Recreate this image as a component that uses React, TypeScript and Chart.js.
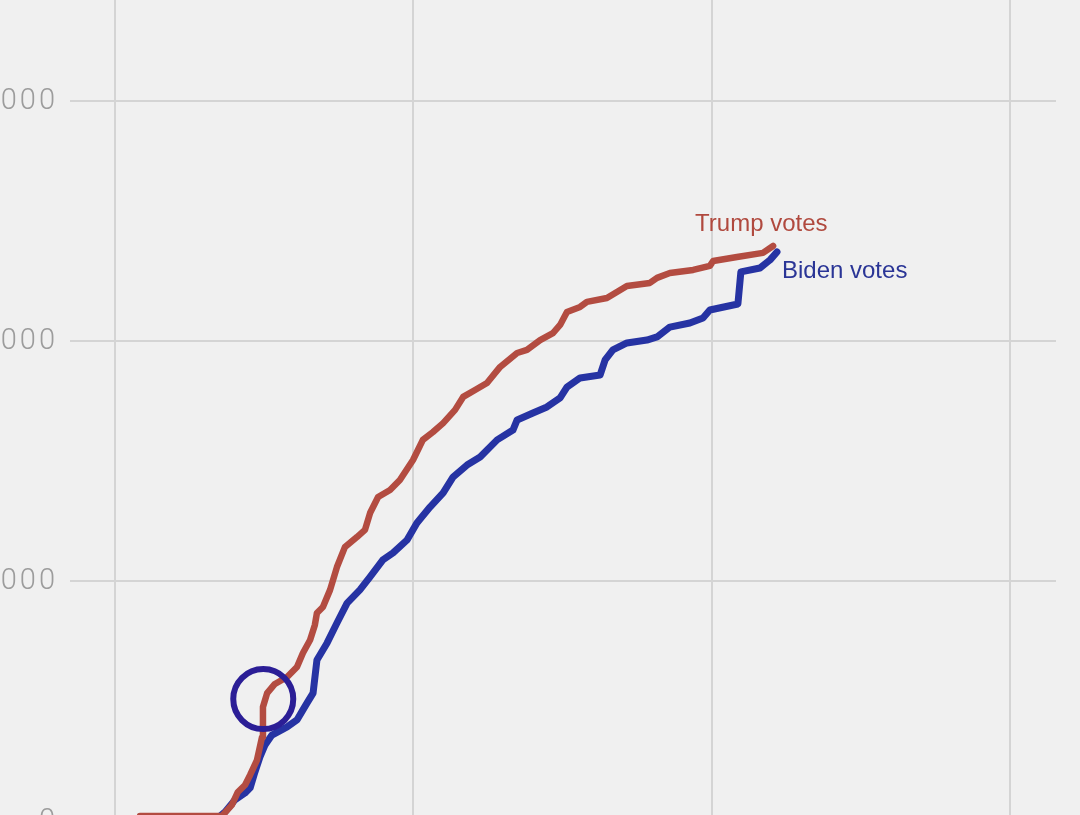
import React, { useEffect, useRef } from "react";
import { Chart, registerables } from "chart.js";

Chart.register(...registerables);

// x: counting progress (gridline every 100 units); y: cumulative votes in thousands
const trumpX = [8.4, 35.9, 39.2, 41.2, 43.6, 45.3, 47.6, 49.3, 49.6, 51.0, 53.6, 57.7, 61.0, 63.0, 65.4, 67.0, 67.7, 69.7, 72.1, 74.4, 77.1, 81.1, 83.8, 85.5, 88.2, 92.2, 95.5, 99.9, 103.2, 106.6, 110.0, 114.0, 116.7, 120.7, 124.7, 129.1, 134.8, 138.1, 142.5, 146.8, 149.2, 151.5, 155.9, 158.2, 164.9, 171.6, 179.3, 181.7, 186.0, 193.8, 199.4, 200.5, 208.5, 217.2, 220.6];
const trumpY = [2.1, 2.1, 6.7, 12.1, 15.0, 19.2, 25.4, 35.0, 47.5, 53.3, 57.1, 60.0, 64.2, 70.0, 75.4, 81.7, 86.7, 89.2, 96.3, 105.8, 114.2, 118.3, 121.3, 128.3, 135.0, 137.9, 142.1, 150.4, 158.8, 162.1, 165.8, 171.3, 176.7, 179.6, 182.5, 189.2, 195.0, 196.3, 200.4, 203.3, 206.7, 212.1, 214.2, 216.3, 217.9, 222.9, 224.2, 226.3, 228.3, 229.6, 231.3, 233.3, 235.0, 236.7, 239.6];

const bidenX = [8.4, 34.5, 36.9, 40.2, 43.6, 45.3, 46.9, 48.6, 50.3, 52.6, 57.7, 61.0, 63.0, 64.4, 66.4, 67.7, 71.1, 74.4, 77.8, 82.1, 85.5, 89.8, 93.2, 97.9, 101.2, 105.6, 110.0, 113.3, 118.0, 122.4, 128.1, 133.4, 134.8, 140.1, 144.8, 149.2, 151.5, 155.9, 162.6, 164.3, 166.9, 171.6, 178.3, 181.7, 186.0, 192.7, 197.1, 199.4, 208.8, 209.8, 216.2, 219.6, 221.9];
const bidenY = [1.3, 1.3, 3.8, 8.8, 11.7, 13.8, 20.4, 26.7, 31.7, 35.8, 39.2, 42.1, 46.3, 49.2, 53.3, 67.1, 74.2, 82.5, 90.8, 96.3, 101.7, 108.8, 111.7, 117.1, 124.2, 130.8, 136.7, 143.3, 148.3, 151.7, 158.8, 162.9, 167.1, 170.0, 172.5, 176.3, 180.8, 184.6, 185.8, 192.1, 196.3, 199.2, 200.4, 201.7, 205.8, 207.5, 209.6, 212.9, 215.4, 228.8, 230.4, 233.8, 237.1];

const circleX = [49.7];
const circleY = [50.8];

const seriesNames = ["Trump votes", "Biden votes"];
const yTickValues = [0, 100, 200, 300];
const xTickValues = [0, 100, 200, 300];

const TRUMP = "#b34c41";
const BIDEN = "#2633a3";

const toPoints = (xs: number[], ys: number[]) => xs.map((x, i) => ({ x, y: ys[i] }));

export default function App() {
  const ref = useRef<HTMLCanvasElement | null>(null);

  useEffect(() => {
    if (!ref.current) return;

    const labelPlugin = {
      id: "endLabels",
      afterDatasetsDraw(chart: any) {
        const ctx = chart.ctx;
        ctx.save();
        // y tick labels
        const ys = chart.scales.y;
        ctx.font = "300 29px Roboto, 'Liberation Sans', sans-serif";
        ctx.fillStyle = "#9c9c9c";
        ctx.textAlign = "right";
        ctx.textBaseline = "middle";
        try { (ctx as any).letterSpacing = "3px"; } catch (e) {}
        yTickValues.forEach((v) => {
          const label = v === 0 ? "0" : `${v} 000`;
          ctx.fillText(label, 58, ys.getPixelForValue(v) + 1);
        });
        try { (ctx as any).letterSpacing = "0px"; } catch (e) {}
        // series end labels
        ctx.textAlign = "left";
        ctx.textBaseline = "alphabetic";
        ctx.font = "24px 'Liberation Sans', Arial, sans-serif";
        const tMeta = chart.getDatasetMeta(1);
        const tLast = tMeta.data[tMeta.data.length - 1];
        ctx.fillStyle = "#b0493e";
        ctx.fillText(seriesNames[0], tLast.x - 78, tLast.y - 15);
        const bMeta = chart.getDatasetMeta(2);
        const bLast = bMeta.data[bMeta.data.length - 1];
        ctx.fillStyle = "#2a3596";
        ctx.fillText(seriesNames[1], bLast.x + 5, bLast.y + 26);
        ctx.restore();
      },
    };

    const chart = new Chart(ref.current, {
      type: "line",
      data: {
        datasets: [
          {
            type: "scatter",
            label: "annotation",
            data: toPoints(circleX, circleY),
            pointRadius: 30,
            pointHoverRadius: 30,
            pointBorderWidth: 6,
            pointBorderColor: "#2b1e96",
            pointBackgroundColor: "rgba(0,0,0,0)",
            showLine: false,
          } as any,
          {
            label: seriesNames[0],
            data: toPoints(trumpX, trumpY),
            borderColor: TRUMP,
            borderWidth: 6.5,
            pointRadius: 0,
            tension: 0,
            borderJoinStyle: "round",
            borderCapStyle: "round",
            fill: false,
          },
          {
            label: seriesNames[1],
            data: toPoints(bidenX, bidenY),
            borderColor: BIDEN,
            borderWidth: 7,
            pointRadius: 0,
            tension: 0,
            borderJoinStyle: "round",
            borderCapStyle: "round",
            fill: false,
          },
        ],
      },
      options: {
        animation: false,
        responsive: false,
        maintainAspectRatio: false,
        devicePixelRatio: 1,
        layout: { autoPadding: false, padding: { left: 70, right: 24, top: 0, bottom: 15 } },
        plugins: { legend: { display: false }, tooltip: { enabled: false } },
        events: [],
        scales: {
          x: {
            type: "linear",
            min: -15.08,
            max: 315.43,
            afterBuildTicks: (scale: any) => {
              scale.ticks = xTickValues.map((v) => ({ value: v }));
            },
            ticks: { display: false, stepSize: 100, includeBounds: false },
            grid: { color: "#d4d4d4", lineWidth: 2, drawTicks: false },
            border: { display: false },
          },
          y: {
            type: "linear",
            min: -10,
            max: 342.08,
            afterBuildTicks: (scale: any) => {
              scale.ticks = yTickValues.map((v) => ({ value: v }));
            },
            ticks: { display: false, stepSize: 100, includeBounds: false },
            grid: { color: "#d4d4d4", lineWidth: 2, drawTicks: false },
            border: { display: false },
          },
        },
      } as any,
      plugins: [labelPlugin],
    });

    return () => chart.destroy();
  }, []);

  return (
    <div
      style={{
        position: "fixed",
        left: 0,
        top: 0,
        width: 1080,
        height: 815,
        overflow: "hidden",
        background: "#f0f0f0",
      }}
    >
      <canvas ref={ref} width={1080} height={860} style={{ display: "block", width: 1080, height: 860 }} />
    </div>
  );
}
